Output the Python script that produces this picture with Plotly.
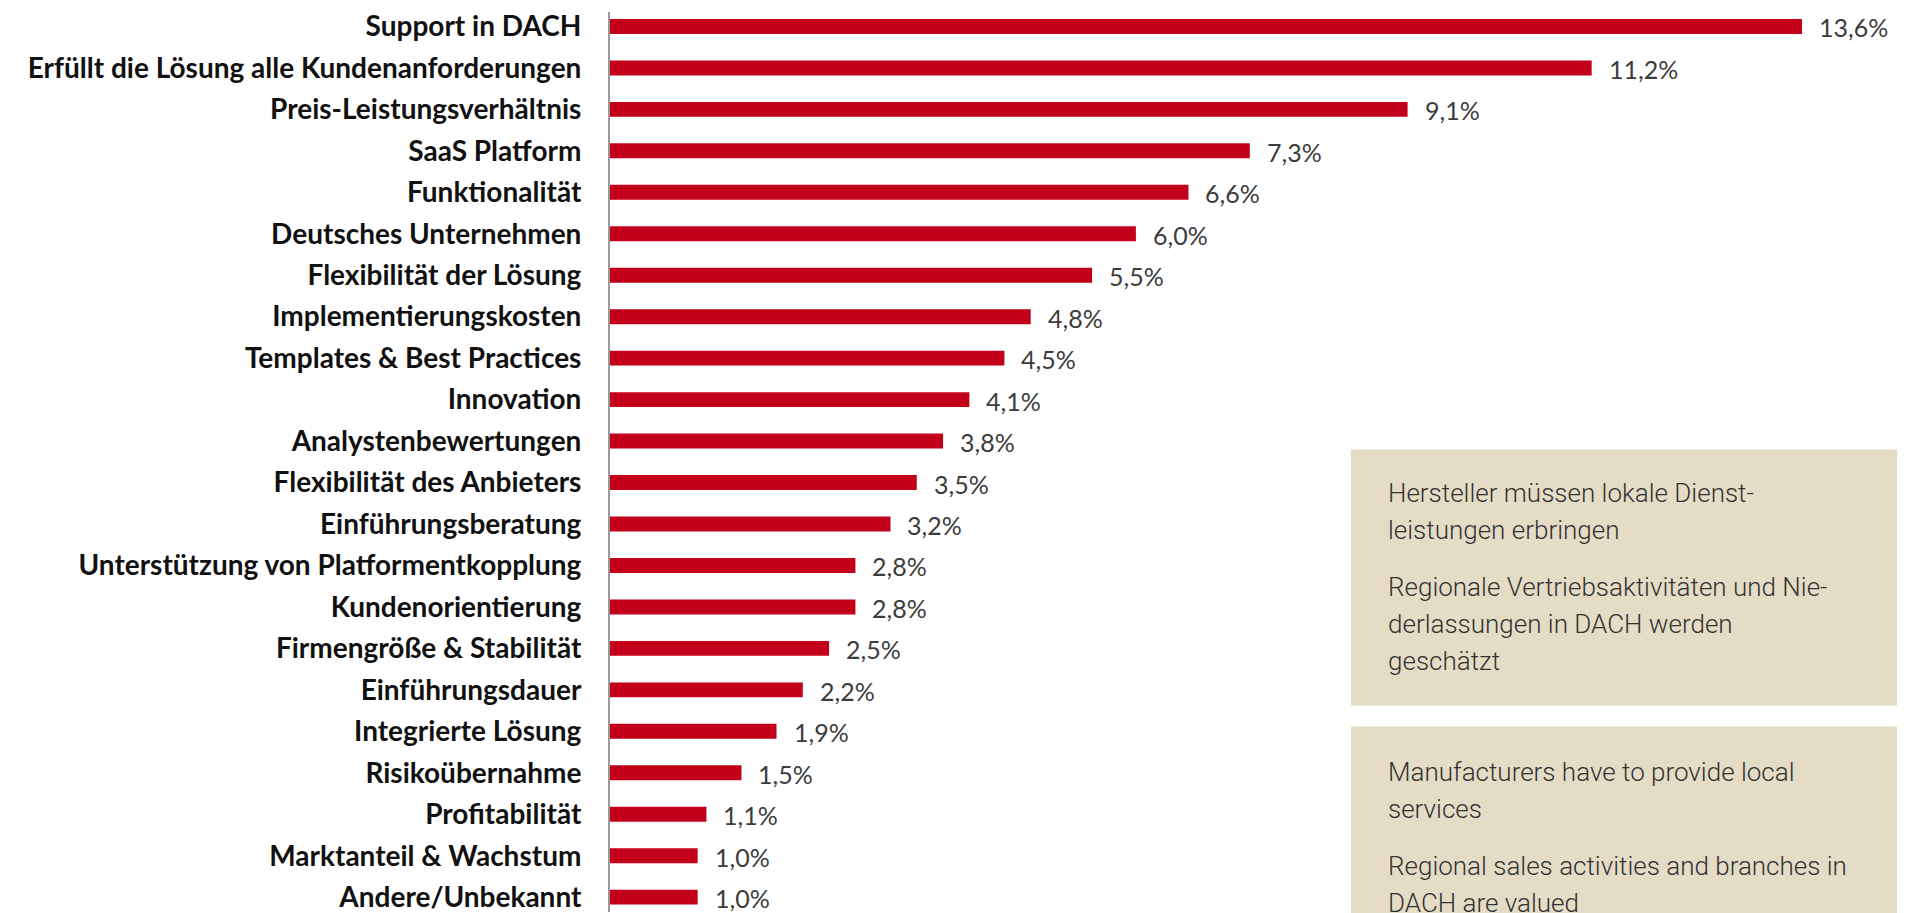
import plotly.graph_objects as go

categories = [
    "Support in DACH",
    "Erfüllt die Lösung alle Kundenanforderungen",
    "Preis-Leistungsverhältnis",
    "SaaS Platform",
    "Funktionalität",
    "Deutsches Unternehmen",
    "Flexibilität der Lösung",
    "Implementierungskosten",
    "Templates & Best Practices",
    "Innovation",
    "Analystenbewertungen",
    "Flexibilität des Anbieters",
    "Einführungsberatung",
    "Unterstützung von Platformentkopplung",
    "Kundenorientierung",
    "Firmengröße & Stabilität",
    "Einführungsdauer",
    "Integrierte Lösung",
    "Risikoübernahme",
    "Profitabilität",
    "Marktanteil & Wachstum",
    "Andere/Unbekannt",
]
values = [13.6, 11.2, 9.1, 7.3, 6.6, 6.0, 5.5, 4.8, 4.5, 4.1, 3.8, 3.5,
          3.2, 2.8, 2.8, 2.5, 2.2, 1.9, 1.5, 1.1, 1.0, 1.0]
value_labels = [f"{v:.1f}".replace(".", ",") + "%" for v in values]

box1_lines = [
    ["Hersteller müssen lokale Dienst-", "leistungen erbringen"],
    ["Regionale Vertriebsaktivitäten und Nie-", "derlassungen in DACH werden", "geschätzt"],
]
box2_lines = [
    ["Manufacturers have to provide local", "services"],
    ["Regional sales activities and branches in", "DACH are valued"],
]

# page body has an 8px default margin; design in window pixels and offset
OFF = 8
W, H = 1905 - OFF, 913 - OFF
ML = 610 - OFF
MT = 10 - OFF
plot_w = W - ML
plot_h = H - MT

BAR_COLOR = "#C3001A"

fig = go.Figure()
fig.add_trace(go.Bar(
    y=categories, x=values, orientation="h",
    marker=dict(color=BAR_COLOR, line=dict(width=0)),
    width=0.36, hoverinfo="skip",
))

annotations = []
for c, v, lab in zip(categories, values, value_labels):
    annotations.append(dict(
        x=v, y=c, xref="x", yref="y", text=lab, showarrow=False,
        xanchor="left", yanchor="middle", xshift=15, yshift=-1,
        font=dict(family="Lato", size=25, color="#3c3c3c"),
    ))

def px_to_paper_x(px):
    return (px - OFF - ML) / plot_w

def px_to_paper_y(py):
    return 1 - (py - OFF - MT) / plot_h

shapes = [
    dict(type="rect", xref="paper", yref="paper",
         x0=px_to_paper_x(1351), x1=px_to_paper_x(1920),
         y0=px_to_paper_y(706), y1=px_to_paper_y(449),
         fillcolor="#E5DCC6", line=dict(width=0), layer="below"),
    dict(type="rect", xref="paper", yref="paper",
         x0=px_to_paper_x(1351), x1=px_to_paper_x(1920),
         y0=px_to_paper_y(930), y1=px_to_paper_y(727),
         fillcolor="#E5DCC6", line=dict(width=0), layer="below"),
]

def add_box_text(paragraphs, first_baseline):
    b = first_baseline
    for para in paragraphs:
        for line in para:
            annotations.append(dict(
                x=px_to_paper_x(1386), y=px_to_paper_y(b - 9),
                xref="paper", yref="paper", text=line, showarrow=False,
                xanchor="left", yanchor="middle",
                font=dict(family="Roboto", size=26, weight=300, color="#333333"),
            ))
            b += 37
        b += 20

add_box_text(box1_lines, 502)
add_box_text(box2_lines, 782)

# y range so category c is centered at window pixel 24.5 + 41.6*c
STEP = 41.6
C0 = 24.5
c_top = ((MT + OFF) - C0) / STEP
c_bot = ((H + OFF) - C0) / STEP
xmax = plot_w / (1192.0 / 13.6)

fig.update_layout(
    width=W, height=H,
    margin=dict(l=ML, r=0, t=MT, b=0, pad=0),
    paper_bgcolor="white", plot_bgcolor="white",
    showlegend=False,
    bargap=0.64,
    xaxis=dict(range=[0, xmax], visible=False, fixedrange=True),
    yaxis=dict(
        type="category", range=[c_bot, c_top],
        showline=True, linecolor="#9a9a9a", linewidth=2,
        showgrid=False, zeroline=False, ticks="",
        ticklabelstandoff=21,
        tickfont=dict(family="Lato", size=28, weight=700, color="#111111"),
        fixedrange=True,
    ),
    shapes=shapes,
    annotations=annotations,
)

fig.write_html("out.html")
